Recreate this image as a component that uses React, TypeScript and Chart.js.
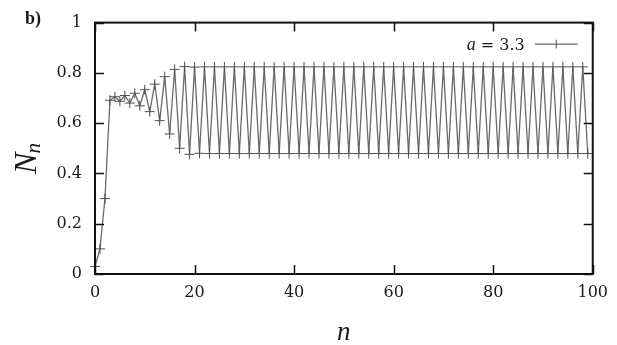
import React, { useEffect, useRef } from "react";
import { Chart, registerables } from "chart.js";

Chart.register(...registerables);

// Iterates n = 0..99 of the population N_n (a = 3.3)
const N_VALUES: number[] = [
  0.03, 0.10, 0.30, 0.691, 0.705, 0.687, 0.710, 0.680, 0.719, 0.669,
  0.733, 0.646, 0.755, 0.610, 0.785, 0.557, 0.814, 0.500, 0.825, 0.476,
  0.823, 0.480, 0.824, 0.479, 0.824, 0.479, 0.824, 0.479, 0.824, 0.479,
  0.824, 0.479, 0.824, 0.479, 0.824, 0.479, 0.824, 0.479, 0.824, 0.479,
  0.824, 0.479, 0.824, 0.479, 0.824, 0.479, 0.824, 0.479, 0.824, 0.479,
  0.824, 0.479, 0.824, 0.479, 0.824, 0.479, 0.824, 0.479, 0.824, 0.479,
  0.824, 0.479, 0.824, 0.479, 0.824, 0.479, 0.824, 0.479, 0.824, 0.479,
  0.824, 0.479, 0.824, 0.479, 0.824, 0.479, 0.824, 0.479, 0.824, 0.479,
  0.824, 0.479, 0.824, 0.479, 0.824, 0.479, 0.824, 0.479, 0.824, 0.479,
  0.824, 0.479, 0.824, 0.479, 0.824, 0.479, 0.824, 0.479, 0.824, 0.479,
];

const X_TICKS: number[] = [0, 20, 40, 60, 80, 100];
const Y_TICKS: number[] = [0, 0.2, 0.4, 0.6, 0.8, 1];
const SERIES_LABEL_VAR = "a";
const SERIES_LABEL_REST = " = 3.3";
const PANEL_LABEL = "b)";
const X_TITLE = "n";
const Y_TITLE_MAIN = "N";
const Y_TITLE_SUB = "n";

const LINE_COLOR = "#6a6a6a";
const POINT_COLOR = "#505050";
const TEXT_COLOR = "#1a1a1a";
const TICK_FONT = "DejaVu Serif";
const MATH_FONT = "Liberation Serif";

const framePlugin = {
  id: "gnuplotFrame",
  afterDraw(chart: any) {
    const { ctx, chartArea } = chart;
    const { left, right, top, bottom } = chartArea;
    const xs = chart.scales.x;
    const ys = chart.scales.y;
    const tl = 9;
    ctx.save();
    ctx.strokeStyle = "#111111";
    ctx.lineWidth = 1.5;
    X_TICKS.forEach((v) => {
      const px = Math.round(xs.getPixelForValue(v)) + 0.5;
      ctx.beginPath();
      ctx.moveTo(px, bottom);
      ctx.lineTo(px, bottom - tl);
      ctx.moveTo(px, top);
      ctx.lineTo(px, top + tl);
      ctx.stroke();
    });
    Y_TICKS.forEach((v) => {
      const py = Math.round(ys.getPixelForValue(v)) + 0.5;
      ctx.beginPath();
      ctx.moveTo(left, py);
      ctx.lineTo(left + tl, py);
      ctx.moveTo(right, py);
      ctx.lineTo(right - tl, py);
      ctx.stroke();
    });
    ctx.lineWidth = 2;
    ctx.strokeRect(left, top, right - left, bottom - top);

    // panel label
    ctx.fillStyle = TEXT_COLOR;
    ctx.textAlign = "left";
    ctx.textBaseline = "alphabetic";
    ctx.font = `bold 18px ${MATH_FONT}`;
    ctx.fillText(PANEL_LABEL, 25, 24);

    // x title
    ctx.font = `italic 27px ${MATH_FONT}`;
    ctx.textAlign = "center";
    ctx.fillText(X_TITLE, (left + right) / 2, 340);

    // y title N_n rotated
    ctx.save();
    ctx.translate(26, 158);
    ctx.rotate(-Math.PI / 2);
    ctx.textAlign = "left";
    ctx.font = `italic 32px ${MATH_FONT}`;
    const wN = ctx.measureText(Y_TITLE_MAIN).width;
    ctx.font = `italic 21px ${MATH_FONT}`;
    const wn = ctx.measureText(Y_TITLE_SUB).width;
    const start = -(wN + wn) / 2;
    ctx.font = `italic 32px ${MATH_FONT}`;
    ctx.fillText(Y_TITLE_MAIN, start, 10);
    ctx.font = `italic 21px ${MATH_FONT}`;
    ctx.fillText(Y_TITLE_SUB, start + wN - 1, 14);
    ctx.restore();

    // legend
    const ly = top + 21;
    ctx.textAlign = "left";
    ctx.font = `16px ${TICK_FONT}`;
    const wRest = ctx.measureText(SERIES_LABEL_REST).width;
    ctx.font = `italic 18px ${MATH_FONT}`;
    const wVar = ctx.measureText(SERIES_LABEL_VAR).width;
    const textRight = right - 68;
    ctx.fillText(SERIES_LABEL_VAR, textRight - wRest - wVar, ly + 6);
    ctx.font = `16px ${TICK_FONT}`;
    ctx.fillText(SERIES_LABEL_REST, textRight - wRest, ly + 6);
    ctx.strokeStyle = LINE_COLOR;
    ctx.lineWidth = 1.3;
    ctx.beginPath();
    ctx.moveTo(right - 58, ly + 0.5);
    ctx.lineTo(right - 15, ly + 0.5);
    ctx.stroke();
    ctx.strokeStyle = POINT_COLOR;
    ctx.lineWidth = 1;
    const cx = right - 37;
    ctx.beginPath();
    ctx.moveTo(cx + 0.5, ly - 4);
    ctx.lineTo(cx + 0.5, ly + 5);
    ctx.stroke();
    ctx.restore();
  },
};

export default function App() {
  const canvasRef = useRef<HTMLCanvasElement | null>(null);

  useEffect(() => {
    document.body.style.margin = "0";
    const canvas = canvasRef.current;
    if (!canvas) return;
    const points = N_VALUES.map((v, i) => ({ x: i, y: v }));
    const chart = new Chart(canvas, {
      type: "line",
      data: {
        datasets: [
          {
            label: SERIES_LABEL_VAR + SERIES_LABEL_REST,
            data: points,
            borderColor: LINE_COLOR,
            borderWidth: 1.3,
            pointStyle: "cross",
            pointRadius: 5,
            pointBorderColor: POINT_COLOR,
            pointBorderWidth: 1,
            pointBackgroundColor: POINT_COLOR,
            tension: 0,
            clip: 8,
          } as any,
        ],
      },
      options: {
        responsive: false,
        animation: false,
        devicePixelRatio: 1,
        layout: { padding: { top: 13, right: 22, left: 0, bottom: 0 } },
        plugins: {
          legend: { display: false },
          tooltip: { enabled: false },
        },
        scales: {
          x: {
            type: "linear",
            min: 0,
            max: 100,
            afterFit: (s: any) => {
              s.height = 71;
            },
            afterBuildTicks: (s: any) => {
              s.ticks = X_TICKS.map((v) => ({ value: v }));
            },
            grid: { display: false, drawTicks: false },
            border: { display: false },
            ticks: {
              padding: 9,
              color: TEXT_COLOR,
              font: { family: TICK_FONT, size: 16 },
              maxRotation: 0,
              callback: (v: any) => String(v),
            },
          },
          y: {
            type: "linear",
            min: 0,
            max: 1,
            afterFit: (s: any) => {
              s.width = 95;
            },
            afterBuildTicks: (s: any) => {
              s.ticks = Y_TICKS.map((v) => ({ value: v }));
            },
            grid: { display: false, drawTicks: false },
            border: { display: false },
            ticks: {
              padding: 13,
              color: TEXT_COLOR,
              font: { family: TICK_FONT, size: 16 },
              callback: (v: any) => String(Number(Number(v).toFixed(1))),
            },
          },
        },
      },
      plugins: [framePlugin],
    });
    return () => chart.destroy();
  }, []);

  return (
    <div style={{ width: 617, height: 345, position: "relative", background: "#fff" }}>
      <canvas ref={canvasRef} width={617} height={345} />
    </div>
  );
}
